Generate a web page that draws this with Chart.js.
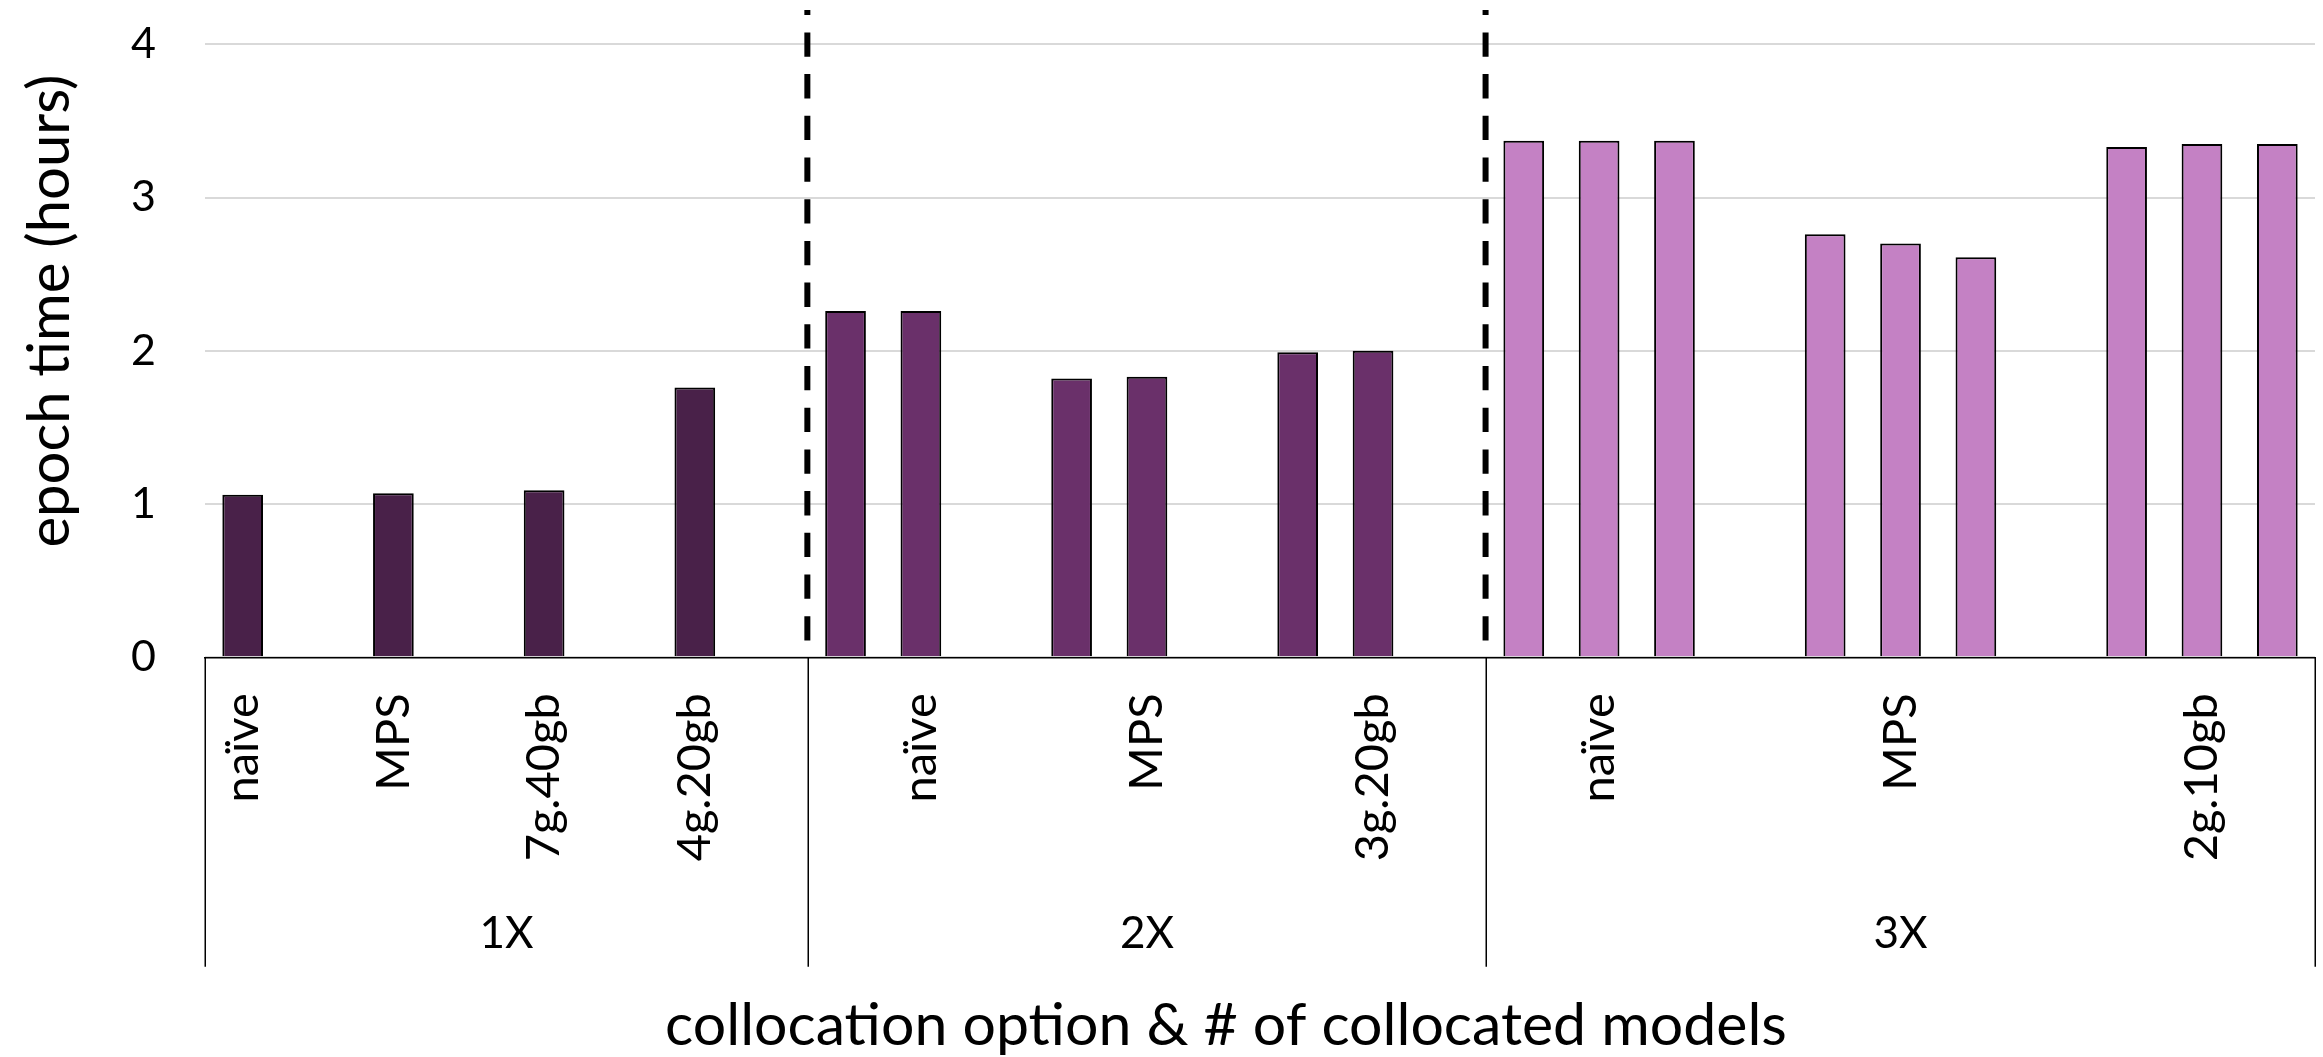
<!DOCTYPE html>
<html>
<head>
<meta charset="utf-8">
<script src="https://cdn.jsdelivr.net/npm/chart.js@4.4.1/dist/chart.umd.min.js"></script>
<style>
  html, body { margin: 0; padding: 0; background: #ffffff; }
  #wrap { width: 2323px; height: 1057px; }
</style>
</head>
<body>
<div id="wrap"><canvas id="chart" width="2323" height="1057"></canvas></div>
<script>
// Number of collocated models (outer axis level)
const groupLabels = ['1X', '2X', '3X'];
// Collocation options inside each group (inner axis level)
const options1X = ['naïve', 'MPS', '7g.40gb', '4g.20gb'];
const options2X = ['naïve', 'MPS', '3g.20gb'];
const options3X = ['naïve', 'MPS', '2g.10gb'];
// Epoch time in hours, one value per collocated model
const hours1X = [[1.06], [1.07], [1.09], [1.76]];
const hours2X = [[2.26, 2.26], [1.82, 1.83], [1.99, 2.00]];
const hours3X = [[3.37, 3.37, 3.37], [2.76, 2.70, 2.61], [3.33, 3.35, 3.35]];
// Value axis ticks
const yTicks = [0, 1, 2, 3, 4];

const groupColors = ['#492149', '#6A306A', '#C481C4'];
const FONT = 'Lato, "Open Sans", "DejaVu Sans", sans-serif';

// Lay the bars out on one category axis: one slot per bar, an empty
// spacer slot after each option (except the very last one).
const groups = [
  { name: groupLabels[0], options: options1X, values: hours1X },
  { name: groupLabels[1], options: options2X, values: hours2X },
  { name: groupLabels[2], options: options3X, values: hours3X }
];
const slotLabels = [];
const slotInfo = [];
const groupSpans = [];
groups.forEach((g, gi) => {
  const start = slotLabels.length;
  g.options.forEach((opt, oi) => {
    const bars = g.values[oi];
    bars.forEach((v, bi) => {
      slotLabels.push(bi === Math.floor(bars.length / 2) ? opt : '');
      slotInfo.push({ group: gi, value: v });
    });
    const isLast = gi === groups.length - 1 && oi === g.options.length - 1;
    if (!isLast) { slotLabels.push(''); slotInfo.push(null); }
  });
  groupSpans.push({ name: g.name, start: start, end: slotLabels.length });
});

const datasets = groups.map((g, gi) => ({
  label: g.name,
  data: slotInfo.map(s => (s && s.group === gi) ? s.value : null),
  backgroundColor: groupColors[gi],
  borderColor: '#000000',
  borderWidth: 2,
  grouped: false,
  categoryPercentage: 1,
  barPercentage: 0.54
}));

// Group separators, group names, axis titles and dashed dividers
const axisDecor = {
  id: 'axisDecor',
  afterDraw(chart) {
    const ctx = chart.ctx;
    const xs = chart.scales.x;
    const area = chart.chartArea;
    const lineBottom = area.bottom + 309.5;

    ctx.save();
    // vertical separators below the axis
    ctx.strokeStyle = '#000000';
    ctx.lineWidth = 1.5;
    const bounds = [groupSpans[0].start].concat(groupSpans.map(s => s.end));
    bounds.forEach(b => {
      const x = Math.round(xs.getPixelForValue(b - 0.5)) + 0.25;
      ctx.beginPath();
      ctx.moveTo(x, area.bottom);
      ctx.lineTo(x, lineBottom);
      ctx.stroke();
    });

    // group names
    ctx.fillStyle = '#000000';
    ctx.font = '44px ' + FONT;
    ctx.textAlign = 'center';
    ctx.textBaseline = 'middle';
    groupSpans.forEach(s => {
      const x0 = xs.getPixelForValue(s.start - 0.5);
      const x1 = xs.getPixelForValue(s.end - 0.5);
      ctx.fillText(s.name, (x0 + x1) / 2, area.bottom + 277);
    });

    // x axis title
    ctx.font = '59px ' + FONT;
    ctx.fillText('collocation option & # of collocated models', 1226, 1026);

    // y axis title
    ctx.save();
    ctx.translate(50, 311);
    ctx.rotate(-Math.PI / 2);
    ctx.font = '58px ' + FONT;
    ctx.fillText('epoch time (hours)', 0, 0);
    ctx.restore();

    // dashed dividers between the groups
    ctx.setLineDash([24.3, 17.4]);
    ctx.lineDashOffset = 19.3;
    ctx.lineWidth = 6;
    groupSpans.slice(1).forEach(s => {
      const x = xs.getPixelForValue(s.start - 0.5) - 0.5;
      ctx.beginPath();
      ctx.moveTo(x, 10);
      ctx.lineTo(x, area.bottom - 1);
      ctx.stroke();
    });
    ctx.restore();
  }
};

new Chart(document.getElementById('chart'), {
  type: 'bar',
  data: { labels: slotLabels, datasets: datasets },
  options: {
    responsive: false,
    animation: false,
    layout: { padding: { top: 44.3, right: 8, bottom: 0, left: 0 } },
    plugins: { legend: { display: false }, tooltip: { enabled: false } },
    scales: {
      x: {
        type: 'category',
        grid: { display: false, drawTicks: false },
        border: { display: true, color: '#000000', width: 1.5 },
        ticks: {
          autoSkip: false,
          minRotation: 90,
          maxRotation: 90,
          padding: 36,
          color: '#000000',
          font: { family: FONT, size: 47 }
        },
        afterFit(scale) {
          scale.height = 399.7;
          scale.paddingLeft = 0;
          scale.paddingRight = 0;
        }
      },
      y: {
        min: yTicks[0],
        max: yTicks[yTicks.length - 1],
        afterBuildTicks(scale) { scale.ticks = yTicks.map(v => ({ value: v })); },
        grid: { color: '#D9D9D9', lineWidth: 2, drawTicks: false },
        border: { display: false },
        ticks: {
          padding: 49,
          color: '#000000',
          font: { family: FONT, size: 43 }
        },
        afterFit(scale) {
          scale.width = 205;
          scale.paddingTop = 0;
          scale.paddingBottom = 0;
        }
      }
    }
  },
  plugins: [axisDecor]
});
</script>
</body>
</html>
